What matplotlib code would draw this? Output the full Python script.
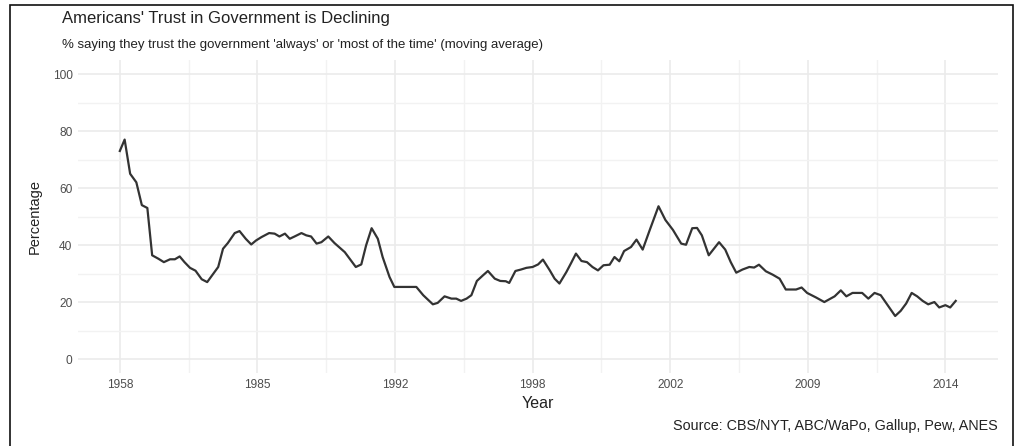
#!/usr/bin/env python3
import matplotlib
matplotlib.use("Agg")
import matplotlib.pyplot as plt
from matplotlib.patches import Rectangle

plt.rcParams['font.family'] = ['Liberation Sans', 'DejaVu Sans']

# position along the series (index units) and moving-average share
pos = [0.0, 0.7, 1.5, 2.4, 3.2, 4.0, 4.7, 5.6, 6.4, 7.3, 8.0, 8.7, 9.4, 10.2, 11.0,
       11.9, 12.7, 13.6, 14.3, 15.0, 15.7, 16.7, 17.4, 18.3, 19.1, 19.8, 20.6, 21.7,
       22.5, 23.2, 24.0, 24.7, 25.4, 26.4, 27.1, 27.8, 28.6, 29.3, 30.3, 31.2, 32.0,
       32.7, 33.4, 34.3, 35.1, 35.8, 36.6, 37.5, 38.2, 39.2, 39.9,
       43.1, 44.1, 45.5, 46.2, 47.2, 48.2, 48.9, 49.6, 50.4, 51.1, 51.9, 52.8, 53.5,
       54.5, 55.3, 56.1, 56.6, 57.5, 58.3, 59.1, 60.0, 60.8, 61.5, 62.5, 63.2, 63.9,
       64.9, 65.6, 66.3, 67.1, 67.9, 68.7, 69.5, 70.3, 71.2, 71.9, 72.6, 73.3, 74.3,
       75.1, 76.0, 77.0, 78.3, 79.3, 80.4, 81.6, 82.3, 83.2, 83.9, 84.6, 85.6, 87.1,
       88.0, 88.8, 89.6, 90.5, 91.5, 92.2, 92.9, 93.9, 94.9, 95.9, 96.8, 98.3, 99.1,
       99.9, 101.2, 102.4, 103.9, 104.8, 105.6, 106.5, 107.9, 108.8, 109.7, 110.6,
       111.6, 112.7, 113.5, 114.3, 115.1, 115.9, 116.7, 117.5, 118.4, 119.1, 120.0,
       120.7, 121.5]
trust = [73, 77, 65, 62, 54, 53, 36.4, 35.2, 34, 35, 35, 36, 34, 32, 31,
         28, 27, 30, 32.3, 38.7, 40.7, 44.2, 44.9, 42.2, 40.2, 41.6, 42.8, 44.2,
         44, 43, 44, 42.2, 43, 44.2, 43.4, 43, 40.5, 41, 43, 40.7, 39,
         37.5, 35.2, 32.3, 33.2, 39.9, 45.9, 42.2, 35.8, 28.8, 25.3,
         25.3, 22.4, 19.2, 19.7, 22, 21.2, 21.2, 20.4, 21.2, 22.4, 27.4, 29.4, 30.9,
         28.2, 27.4, 27.3, 26.7, 30.9, 31.4, 32, 32.3, 33.2, 34.9, 31.1, 28.2, 26.5,
         30.5, 33.7, 37, 34.4, 34, 32.3, 31.1, 32.9, 33.1, 35.8, 34.3, 37.9, 39.3,
         41.9, 38.4, 45.1, 53.6, 48.8, 45.3, 40.5, 40.1, 45.9, 46, 43.4, 36.4, 41,
         38.4, 34, 30.3, 31.4, 32.3, 32.1, 33.1, 30.8, 29.6, 28.2, 24.4, 24.4, 25.1,
         23.2, 21.6, 20, 22, 24.1, 22, 23.2, 23.2, 21.2, 23.2, 22.4,
         18.9, 15.1, 16.9, 19.5, 23.2, 22, 20.4, 19.2, 20, 18.1, 18.9,
         18.1, 20.4]

tick_pos = [0, 20, 40, 60, 80, 100, 120]
tick_labels = ['1958', '1985', '1992', '1998', '2002', '2009', '2014']


def main():
    fig = plt.figure(figsize=(10.16, 4.46), dpi=100)
    ax = fig.add_axes([0.0768, 0.163, 0.905, 0.703])

    ax.plot(pos, trust, color='#333333', linewidth=1.6, solid_joinstyle='round')

    span = pos[-1] - pos[0]
    ax.set_xlim(pos[0] - 0.05 * span, pos[-1] + 0.05 * span)
    ax.set_ylim(-5, 105)

    ax.set_xticks(tick_pos)
    ax.set_xticklabels(tick_labels)
    ax.set_xticks([10, 30, 50, 70, 90, 110], minor=True)
    ax.set_yticks([0, 20, 40, 60, 80, 100])
    ax.set_yticks([10, 30, 50, 70, 90], minor=True)

    ax.grid(True, which='major', color='#EBEBEB', linewidth=1.2)
    ax.grid(True, which='minor', color='#F2F2F2', linewidth=1.0)
    ax.set_axisbelow(True)
    for s in ax.spines.values():
        s.set_visible(False)
    ax.tick_params(which='both', length=0)
    ax.tick_params(axis='both', labelsize=8.6, labelcolor='#4D4D4D', pad=4)

    ax.set_xlabel("Year", fontsize=11.5, color='#222222', labelpad=4)
    ax.set_ylabel("Percentage", fontsize=10.5, color='#222222', labelpad=8)

    fig.text(62 / 1016, 1 - 18 / 446, "Americans' Trust in Government is Declining",
             fontsize=12, color='#222222', va='center', ha='left')
    fig.text(62 / 1016, 1 - 45 / 446,
             "% saying they trust the government 'always' or 'most of the time' (moving average)",
             fontsize=9.5, color='#222222', va='center', ha='left')
    fig.text(998 / 1016, 1 - 426 / 446, "Source: CBS/NYT, ABC/WaPo, Gallup, Pew, ANES",
             fontsize=10.4, color='#222222', va='center', ha='right')

    # thin black frame around the picture (open at the bottom)
    fig.patches.append(Rectangle((10 / 1016, -0.05), 1003 / 1016, 1.05 - 5 / 446,
                                 transform=fig.transFigure, fill=False,
                                 edgecolor='#111111', linewidth=1.2))

    fig.savefig("out.png", dpi=100)


if __name__ == "__main__":
    main()
